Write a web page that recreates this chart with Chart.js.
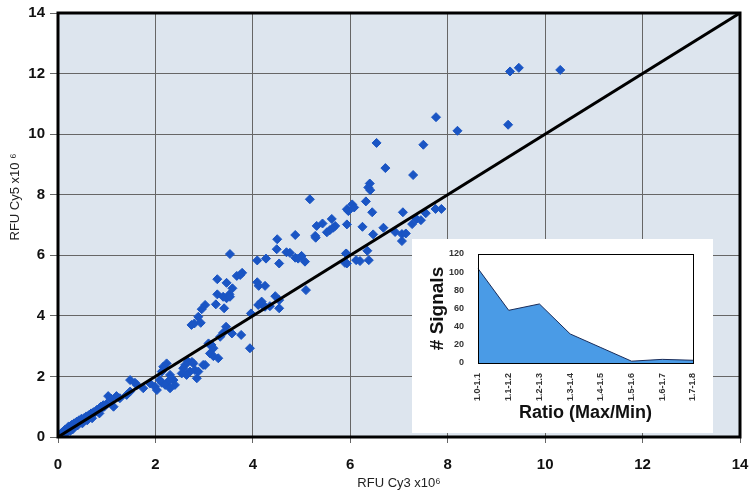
<!DOCTYPE html>
<html>
<head>
<meta charset="utf-8">
<script src="https://cdn.jsdelivr.net/npm/chart.js@4.4.0/dist/chart.umd.min.js"></script>
<style>
  html, body { margin: 0; padding: 0; background: #fff; }
  #wrap { position: relative; width: 752px; height: 502px; }
  #main { position: absolute; left: 0; top: 0; }
  #inset { position: absolute; left: 412px; top: 239px; background: #fff; }
</style>
</head>
<body>
<div id="wrap">
  <canvas id="main" width="752" height="502"></canvas>
  <canvas id="inset" width="301" height="194"></canvas>
</div>
<script>
// spots, [Cy3, Cy5] in units of 10^6 RFU
const lowSpots = [
  [0.03,0.05],[0.06,0.10],[0.08,0.15],[0.10,0.12],[0.12,0.20],[0.15,0.25],[0.18,0.22],[0.20,0.30],
  [0.22,0.35],[0.25,0.30],[0.28,0.40],[0.30,0.38],[0.33,0.45],[0.35,0.42],[0.38,0.50],[0.40,0.48],
  [0.43,0.55],[0.45,0.50],[0.48,0.60],[0.50,0.56],[0.53,0.62],[0.55,0.58],[0.58,0.68],[0.60,0.65],
  [0.63,0.72],[0.65,0.70],[0.68,0.78],[0.70,0.75],[0.73,0.82],[0.75,0.80],[0.78,0.85],[0.80,0.90],
  [0.83,0.88],[0.85,0.95],[0.88,1.00],[0.90,0.95],[0.93,1.05],[0.95,1.00],[0.30,0.25],[0.50,0.45],
  [0.70,0.62],[0.85,0.78],[0.25,0.20],[0.15,0.10],[0.40,0.38],[1.00,1.10],[0.60,0.55],
  [1.03,1.35],[1.09,1.27],[1.20,1.35],[1.14,1.00],[1.41,1.39],[1.48,1.50],[1.27,1.28],
  [1.58,1.79],[1.62,1.72],[1.75,1.61],[1.48,1.88],[1.89,1.77],[2.13,1.79],[1.99,1.66],[2.03,1.55]
];
const midSpots = [
  [2.16,2.32],[2.23,2.43],[2.30,2.05],[2.37,1.88],[2.26,1.83],[2.20,1.72],[2.30,1.61],[2.40,1.72],
  [2.09,1.88],[2.13,2.16],[2.61,2.38],[2.67,2.49],[2.78,2.43],[2.81,2.21],[2.88,2.16],[2.71,2.16],
  [2.57,2.27],[2.54,2.10],[2.64,2.05],[2.85,1.94],[3.02,2.38],[2.75,2.48],[2.98,2.38],
  [3.09,3.09],[3.15,3.04],[3.19,2.93],[3.12,2.76],[3.19,2.67],[3.29,2.60],[3.33,3.31],[3.39,3.44],
  [2.74,3.70],[2.80,3.75],[2.93,3.77],[3.45,3.64],[3.57,3.42],[3.76,3.37],[3.94,2.93],
  [3.02,4.36],[2.95,4.22],[3.24,4.38],[3.41,4.25],[4.18,4.38],[4.35,4.32],[4.54,4.25],[2.88,3.97],[3.96,4.08],
  [4.11,4.36],[4.18,4.47],[4.25,4.30],
  [3.27,4.71],[3.39,4.63],[3.52,4.71],[3.46,4.58],[3.53,4.63],[4.46,4.65],[4.54,4.52],
  [3.78,5.42],[3.67,5.32],[3.74,5.35],[3.27,5.21],[3.46,5.09],[3.58,4.91],[4.09,5.11],[4.12,4.99],[4.25,4.99],
  [4.50,6.53],[4.49,6.20],[4.69,6.10],[4.54,5.73],[3.53,6.04],[4.09,5.83],[4.27,5.89],
  [4.87,5.92],[4.93,5.89],[5.00,5.98],[5.07,5.79],[4.76,6.08],[5.09,4.85]
];
const highSpots = [
  [5.93,6.04],[6.35,6.15],[6.38,5.84],[6.12,5.84],[6.20,5.81],[5.89,5.75],[5.91,6.06],[5.93,5.73],
  [5.58,6.83],[5.52,6.76],[5.28,6.64],[5.29,6.58],[4.87,6.67],[6.47,6.69],
  [5.62,7.20],[5.31,6.97],[5.43,7.05],[5.69,6.97],[5.65,6.91],[5.93,7.02],[6.25,6.94],
  [6.40,8.37],[6.37,8.24],[6.41,8.15],[5.17,7.85],[6.32,7.78],[6.04,7.68],[6.08,7.58],[5.93,7.52],[5.96,7.46],[6.45,7.42],
  [7.08,7.42],[6.68,6.91],[6.92,6.77],[7.06,6.70],[7.14,6.72],[7.06,6.47],[7.27,7.03],[7.36,7.20],
  [7.45,7.16],[7.55,7.39],[7.75,7.53],[7.87,7.53],
  [9.28,12.07],[9.46,12.19],[10.31,12.12],[7.76,10.56],[8.20,10.11],[9.24,10.31],[7.50,9.65],
  [6.72,8.88],[7.29,8.65],[6.54,9.71]
];
const unityLine = [[0, 0], [14, 14]];

// inset: number of signals per max/min ratio bin
const ratioBins = ['1.0-1.1', '1.1-1.2', '1.2-1.3', '1.3-1.4', '1.4-1.5', '1.5-1.6', '1.6-1.7', '1.7-1.8'];
const signalCounts = [104, 58, 65, 32, 17, 2, 4, 3];

const FONT = "'Liberation Sans', Arial, sans-serif";
const toXY = arr => arr.map(p => ({ x: p[0], y: p[1] }));

const plotBackground = {
  id: 'plotBackground',
  beforeDraw(chart) {
    const { ctx, chartArea: a } = chart;
    ctx.save();
    ctx.fillStyle = '#dde5ee';
    ctx.fillRect(a.left, a.top, a.right - a.left, a.bottom - a.top);
    ctx.restore();
  }
};

const mainFrame = {
  id: 'mainFrame',
  afterDraw(chart) {
    const { ctx, chartArea: a } = chart;
    ctx.save();
    ctx.strokeStyle = '#000';
    ctx.lineWidth = 3;
    ctx.strokeRect(a.left, a.top, a.right - a.left, a.bottom - a.top);
    // y axis title, sits a bit above the middle in the original
    ctx.translate(15, 197);
    ctx.rotate(-Math.PI / 2);
    ctx.fillStyle = '#222';
    ctx.font = '13px ' + FONT;
    ctx.textAlign = 'center';
    ctx.textBaseline = 'middle';
    ctx.fillText('RFU Cy5 x10 \u2076', 0, 0);
    ctx.restore();
  }
};

new Chart(document.getElementById('main'), {
  type: 'scatter',
  data: {
    datasets: [
      {
        type: 'line',
        data: toXY(unityLine),
        borderColor: '#000',
        borderWidth: 3,
        pointRadius: 0,
        order: 0
      },
      {
        data: toXY(lowSpots.concat(midSpots, highSpots)),
        pointStyle: 'rectRot',
        pointRadius: 4.5,
        backgroundColor: '#1a55c4',
        borderColor: '#1a55c4',
        borderWidth: 1,
        order: 1
      }
    ]
  },
  options: {
    responsive: false,
    animation: false,
    layout: { autoPadding: false, padding: { top: 13, right: 12, left: 0, bottom: 0 } },
    plugins: { legend: { display: false }, tooltip: { enabled: false } },
    scales: {
      x: {
        type: 'linear', min: 0, max: 14,
        ticks: { stepSize: 2, color: '#111', padding: 13, font: { family: FONT, size: 15, weight: 'bold' } },
        grid: { color: '#666', lineWidth: 1, tickLength: 6 },
        border: { display: false },
        title: { display: true, text: 'RFU Cy3 x10\u2076', color: '#222', padding: { bottom: 11, top: 0 },
                 font: { family: FONT, size: 13 } },
        afterFit: s => { s.height = 65; s.paddingLeft = 0; s.paddingRight = 0; }
      },
      y: {
        type: 'linear', min: 0, max: 14,
        ticks: { stepSize: 2, color: '#111', padding: 5, font: { family: FONT, size: 15, weight: 'bold' } },
        grid: { color: '#666', lineWidth: 1, tickLength: 8 },
        border: { display: false },
        afterFit: s => { s.width = 58; s.paddingTop = 0; s.paddingBottom = 0; }
      }
    }
  },
  plugins: [plotBackground, mainFrame]
});

const insetFrame = {
  id: 'insetFrame',
  afterDraw(chart) {
    const { ctx, chartArea: a } = chart;
    ctx.save();
    ctx.strokeStyle = '#000';
    ctx.lineWidth = 1;
    ctx.strokeRect(a.left + 0.5, a.top + 0.5, a.right - a.left, a.bottom - a.top);
    ctx.restore();
  }
};

new Chart(document.getElementById('inset'), {
  type: 'line',
  data: {
    labels: ratioBins,
    datasets: [{
      data: signalCounts,
      fill: 'origin',
      backgroundColor: '#4a9be6',
      borderColor: '#1b2d5a',
      borderWidth: 1,
      pointRadius: 0,
      tension: 0
    }]
  },
  options: {
    responsive: false,
    animation: false,
    layout: { autoPadding: false, padding: { top: 15, right: 20, left: 0, bottom: 0 } },
    plugins: { legend: { display: false }, tooltip: { enabled: false } },
    scales: {
      x: {
        offset: false,
        ticks: { autoSkip: false, minRotation: 90, maxRotation: 90, color: '#333', padding: 2,
                 font: { family: FONT, size: 9, weight: 'bold' } },
        grid: { display: false },
        border: { display: false },
        title: { display: true, text: 'Ratio (Max/Min)', color: '#111', padding: { top: 0, bottom: 9 },
                 font: { family: FONT, size: 18, weight: 'bold' } },
        afterFit: s => { s.height = 70; s.paddingLeft = 0; s.paddingRight = 0; }
      },
      y: {
        min: 0, max: 120,
        ticks: { stepSize: 20, color: '#333', padding: 6, font: { family: FONT, size: 9, weight: 'bold' } },
        grid: { display: false },
        border: { display: false },
        title: { display: true, text: '# Signals', color: '#111', padding: { top: 14, bottom: 0 },
                 font: { family: FONT, size: 19, weight: 'bold' } },
        afterFit: s => { s.width = 66; s.paddingTop = 0; s.paddingBottom = 0; }
      }
    }
  },
  plugins: [insetFrame]
});
</script>
</body>
</html>
